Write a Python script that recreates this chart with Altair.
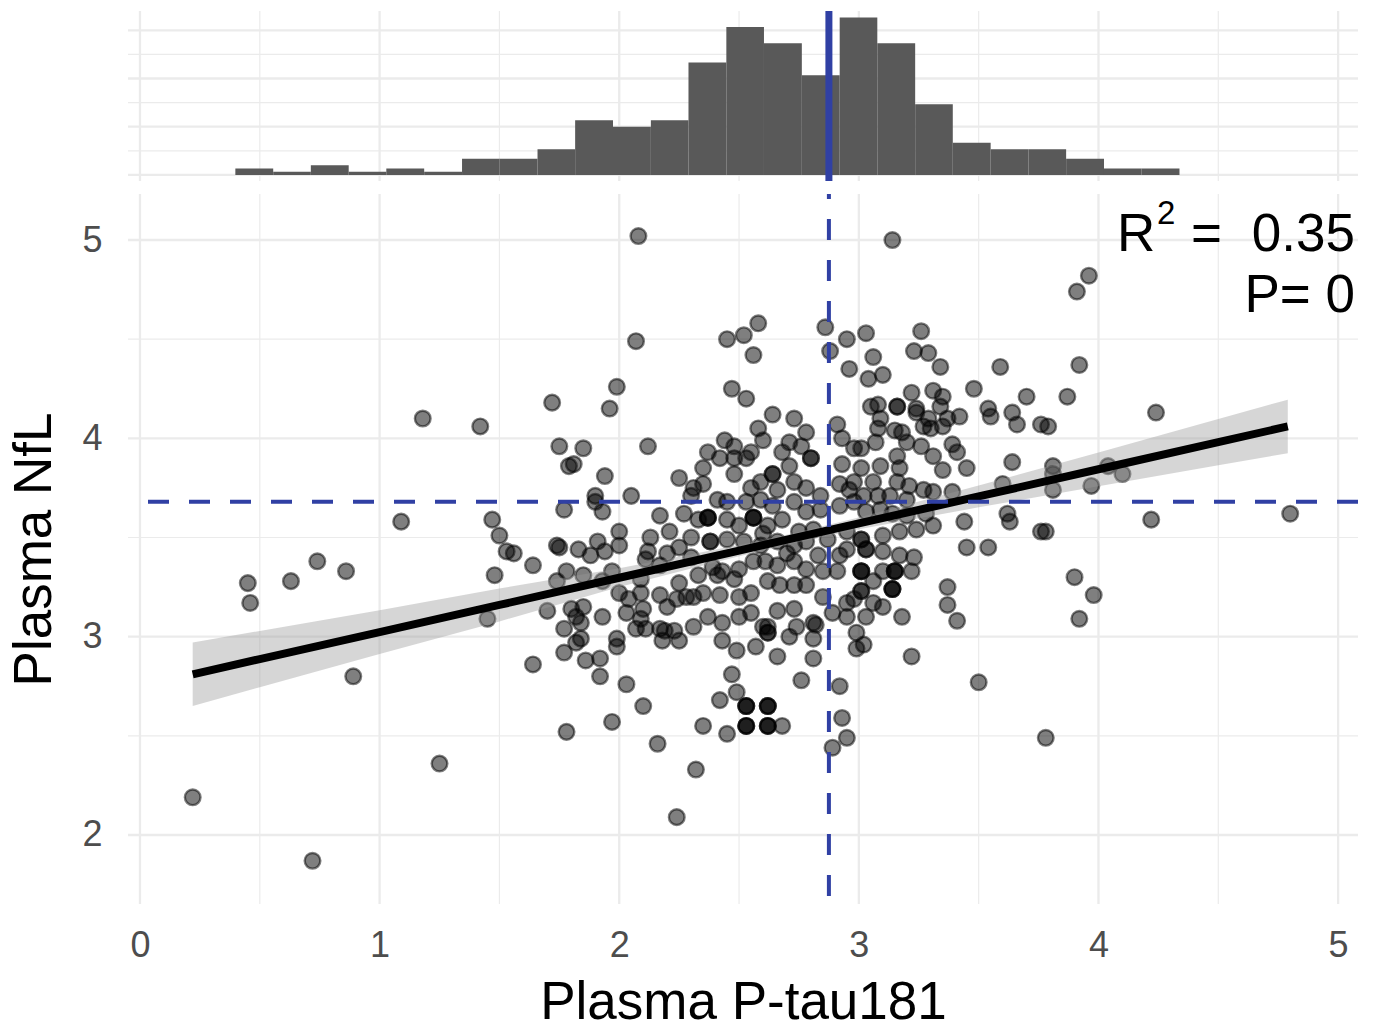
import altair as alt
import pandas as pd

# ---------------- scatter data (Plasma P-tau181 vs Plasma NfL) ----------------
ptau_a = [0.22, 0.45, 0.46, 0.63, 0.74, 0.86, 0.89, 0.72, 1.09, 1.25, 1.18, 1.42, 1.45, 1.47, 1.50, 1.53, 1.48, 1.56]
nfl_a = [2.19, 3.27, 3.17, 3.28, 3.38, 3.33, 2.80, 1.87, 3.58, 2.36, 4.10, 4.06, 3.09, 3.59, 3.51, 3.43, 3.31, 3.42]

ptau_b = [1.64, 1.74, 1.74, 1.70, 1.80, 1.64, 1.77, 1.78, 1.72, 1.75,
          1.79, 1.85, 1.81, 1.77, 1.94, 1.90, 1.93, 1.90, 1.75, 1.83,
          1.91, 1.94, 1.88, 1.78, 1.85, 1.93, 1.97, 1.93, 1.85, 1.82,
          1.77, 1.84, 1.99, 1.97, 1.99, 1.92, 1.92, 1.86, 1.82, 1.84,
          1.99, 1.96]
nfl_b = [3.36, 3.46, 3.28, 3.13, 3.14, 2.86, 2.92, 2.52, 4.18, 3.96,
         3.86, 3.95, 3.87, 3.64, 3.81, 3.71, 3.63, 3.68, 3.45, 3.44,
         3.48, 3.43, 3.41, 3.33, 3.31, 3.28, 3.33, 3.10, 3.15, 3.10,
         3.04, 2.99, 2.99, 2.57, 2.95, 2.80, 2.89, 2.88, 2.97, 3.07,
         4.26, 4.15]

ptau_c = [2.08, 2.07, 2.12, 2.05, 2.00, 2.17, 2.21, 2.00, 2.12, 2.11,
          2.17, 2.09, 2.00, 2.04, 2.09, 2.17, 2.25, 2.28, 2.33, 2.41,
          2.39, 2.43, 2.48, 2.35, 2.31, 2.24, 2.20, 2.10, 2.03, 2.09,
          2.17, 2.23, 2.31, 2.37, 2.43, 2.42, 2.07, 2.11, 2.18, 2.25,
          2.19, 2.43, 2.49, 2.03, 2.10, 2.16, 2.32, 2.24, 2.35, 2.45,
          2.42, 2.47, 2.49, 2.45, 2.47, 2.44, 2.48, 2.37, 2.42, 2.48,
          2.35, 2.48, 2.25, 2.31, 2.30, 2.35, 2.41, 2.45, 2.27, 2.33,
          2.45, 2.45, 2.37, 2.37, 2.37, 2.38, 2.38, 2.25, 2.30, 2.20,
          2.30, 2.13]
nfl_c = [5.02, 4.49, 3.96, 3.71, 3.53, 3.61, 3.53, 3.46, 3.43, 3.39,
         3.36, 3.29, 3.22, 3.19, 3.22, 3.21, 3.27, 3.20, 3.31, 3.31,
         3.35, 3.33, 3.29, 3.22, 3.20, 3.19, 3.15, 3.14, 3.12, 3.09,
         3.04, 3.03, 3.05, 3.10, 3.07, 3.21, 3.04, 3.04, 2.98, 2.98,
         3.03, 2.98, 2.93, 2.76, 2.65, 2.46, 2.33, 2.09, 2.55, 2.51,
         2.68, 2.81, 2.72, 4.50, 4.25, 3.99, 3.96, 3.93, 3.90, 3.90,
         3.85, 3.82, 3.80, 3.75, 3.71, 3.77, 3.69, 3.68, 3.62, 3.59,
         3.59, 3.49, 3.60, 3.60, 3.60, 3.48, 3.48, 3.45, 3.40, 3.42,
         3.50, 3.50]

ptau_d = [2.52, 2.58, 2.56, 2.53, 2.64, 2.73, 2.78, 2.60, 2.71, 2.55,
          2.53, 2.80, 2.80, 2.71, 2.64, 2.64, 2.59, 2.66, 2.73, 2.78,
          2.84, 2.53, 2.59, 2.64, 2.73, 2.78, 2.84, 2.56, 2.56, 2.56,
          2.50, 2.62, 2.68, 2.75, 2.81, 2.87, 2.52, 2.59, 2.66, 2.73,
          2.50, 2.56, 2.61, 2.66, 2.73, 2.78, 2.83, 2.85, 2.85, 2.89,
          2.78, 2.73, 2.67, 2.62, 2.55, 2.50, 2.50, 2.55, 2.62, 2.62,
          2.62, 2.66, 2.73, 2.74, 2.81, 2.81, 2.82, 2.71, 2.66, 2.60,
          2.57, 2.76, 2.81, 2.53, 2.53, 2.53, 2.62, 2.62, 2.62, 2.53,
          2.53, 2.53, 2.62, 2.62, 2.62, 2.68, 2.86, 2.88, 2.89, 2.70,
          2.60, 2.78, 2.55, 2.68, 2.76, 2.58]
nfl_d = [4.52, 4.58, 4.42, 4.20, 4.12, 4.10, 4.03, 3.99, 3.98, 3.93,
         3.90, 3.90, 3.90, 3.86, 3.82, 3.82, 3.78, 3.74, 3.78, 3.75,
         3.71, 3.68, 3.69, 3.66, 3.68, 3.63, 3.64, 3.60, 3.60, 3.60,
         3.56, 3.56, 3.59, 3.53, 3.54, 3.49, 3.48, 3.46, 3.48, 3.46,
         3.34, 3.38, 3.38, 3.36, 3.38, 3.34, 3.41, 3.33, 3.20, 3.12,
         3.26, 3.26, 3.26, 3.28, 3.22, 3.20, 3.10, 3.12, 3.05, 3.02,
         3.02, 3.13, 3.14, 3.05, 3.07, 2.99, 3.06, 3.00, 2.90, 3.05,
         2.95, 2.78, 2.89, 2.65, 2.65, 2.65, 2.65, 2.65, 2.65, 2.55,
         2.55, 2.55, 2.55, 2.55, 2.55, 2.55, 4.56, 4.44, 2.44, 3.42,
         3.52, 3.48, 3.75, 3.93, 3.96, 4.05]

ptau_e = [2.95, 2.96, 2.98, 2.93, 2.91, 2.93, 2.92, 2.98, 2.92, 2.98,
          2.95, 2.91, 2.92, 2.95, 2.95, 2.99, 2.92, 2.93, 2.95, 2.99,
          3.14, 3.03, 3.26, 3.23, 3.29, 3.34, 3.06, 3.04, 3.10, 3.48,
          3.22, 3.31, 3.35, 3.34, 3.05, 3.08, 3.16, 3.16, 3.24, 3.29,
          3.37, 3.42, 3.09, 3.08, 3.15, 3.18, 3.30, 3.24, 3.27, 3.35,
          3.07, 3.20, 3.26, 3.39, 3.41, 3.31, 3.16, 3.01, 3.09, 3.01,
          3.17, 3.35, 3.45, 2.96, 3.06, 3.16, 3.21, 3.27, 3.02, 3.08,
          3.13, 3.20, 3.31, 3.39, 3.03, 3.09, 3.14, 3.20, 3.28, 3.31,
          3.24, 3.17, 3.10, 3.01, 3.01, 3.03, 3.03, 2.95, 3.10, 3.17,
          3.23, 3.22, 3.10, 3.06, 2.98, 3.06, 3.10, 3.03, 3.18, 3.01,
          3.01, 3.01, 3.01, 3.01, 3.15, 3.15, 3.15, 3.14, 3.14, 3.14,
          3.02, 3.22, 3.37, 3.37, 3.41, 3.44, 3.45]
nfl_e = [4.50, 4.35, 3.95, 4.00, 4.07, 3.87, 3.77, 3.78, 3.66, 3.68,
         3.53, 3.33, 3.41, 3.17, 3.10, 3.02, 2.75, 2.59, 2.49, 2.94,
         5.00, 4.53, 4.54, 4.44, 4.43, 4.36, 4.41, 4.30, 4.32, 4.25,
         4.23, 4.24, 4.21, 4.16, 4.16, 4.17, 4.16, 4.16, 4.13, 4.10,
         4.10, 4.11, 4.10, 4.05, 4.04, 4.03, 4.05, 4.15, 4.06, 4.06,
         3.98, 3.98, 3.96, 3.97, 3.93, 3.91, 3.91, 3.95, 3.86, 3.85,
         3.85, 3.84, 3.85, 3.74, 3.78, 3.78, 3.76, 3.74, 3.71, 3.71,
         3.71, 3.69, 3.73, 3.73, 3.63, 3.64, 3.62, 3.61, 3.62, 3.56,
         3.54, 3.53, 3.51, 3.49, 3.49, 3.44, 3.44, 3.44, 3.43, 3.41,
         3.40, 3.33, 3.33, 3.28, 3.19, 3.17, 3.15, 3.10, 3.10, 3.33,
         3.33, 3.33, 3.23, 3.23, 3.33, 3.33, 3.33, 3.24, 3.24, 3.24,
         2.96, 2.90, 3.25, 3.16, 3.08, 3.58, 3.45]

ptau_f = [3.96, 3.91, 3.59, 3.92, 3.70, 3.87, 3.54, 3.55, 3.64, 3.66,
          3.76, 3.79, 3.64, 3.81, 3.60, 3.81, 3.81, 3.97, 3.62, 3.63,
          3.76, 3.78, 3.54, 3.90, 3.98, 3.92, 3.50, 3.78, 4.24, 4.04,
          4.10, 4.22, 4.80]
nfl_f = [4.82, 4.74, 4.36, 4.37, 4.21, 4.21, 4.15, 4.11, 4.13, 4.07,
         4.07, 4.06, 3.88, 3.86, 3.77, 3.82, 3.74, 3.76, 3.62, 3.58,
         3.53, 3.53, 3.45, 3.30, 3.21, 3.09, 2.77, 2.49, 4.13, 3.86,
         3.82, 3.59, 3.62]

# ---------------- marginal histogram (counts per bin) ----------------
hist_edges = [0.398, 0.556, 0.713, 0.871, 1.028, 1.186, 1.344, 1.501, 1.659, 1.816,
              1.974, 2.132, 2.289, 2.447, 2.604, 2.762, 2.920, 3.077, 3.235, 3.392,
              3.550, 3.708, 3.865, 4.023, 4.180, 4.338]
hist_counts = [2, 1, 3, 1, 2, 1, 5, 5, 8, 17, 15, 17, 35, 46, 41, 31, 49, 41, 22, 10, 8, 8, 5, 2, 2]

# ---------------- linear fit with 95% CI ----------------
fit_x = [0.22, 0.5, 1.0, 1.5, 2.0, 2.5, 2.7, 3.0, 3.5, 4.0, 4.5, 4.79]
fit_y = [2.81, 2.887, 3.023, 3.16, 3.297, 3.434, 3.489, 3.571, 3.707, 3.844, 3.981, 4.06]
fit_lo = [2.65, 2.745, 2.913, 3.077, 3.25, 3.406, 3.464, 3.541, 3.652, 3.759, 3.864, 3.925]
fit_hi = [2.97, 3.029, 3.133, 3.243, 3.345, 3.462, 3.514, 3.601, 3.762, 3.929, 4.098, 4.195]

# reference (median) lines
ref_ptau = [2.875]
ref_nfl = [3.68]

# grid positions
x_major = [0, 1, 2, 3, 4, 5]
x_minor = [0.5, 1.5, 2.5, 3.5, 4.5]
y_major = [2, 3, 4, 5]
y_minor = [2.5, 3.5, 4.5]
h_major = [0, 15, 30, 45]
h_minor = [7.5, 22.5, 37.5]

FONT = "Liberation Sans"
BLUE = "#3040A4"
GRID = "#EBEBEB"
W = 1230

points = pd.DataFrame({
    "ptau": ptau_a + ptau_b + ptau_c + ptau_d + ptau_e + ptau_f,
    "nfl": nfl_a + nfl_b + nfl_c + nfl_d + nfl_e + nfl_f,
})
fit = pd.DataFrame({"x": fit_x, "y": fit_y, "lo": fit_lo, "hi": fit_hi})
hist = pd.DataFrame({"lo": hist_edges[:-1], "hi": hist_edges[1:], "n": hist_counts})

xs = alt.Scale(domain=[-0.05, 5.083], nice=False, zero=False)
ys = alt.Scale(domain=[1.652, 5.232], nice=False, zero=False)
hs = alt.Scale(domain=[-1.9, 51], nice=False, zero=False)

x_axis = alt.Axis(values=x_major, format="d", grid=False, ticks=False, tickSize=0, domain=False,
                  labelFontSize=36, labelColor="#4D4D4D", labelFont=FONT, labelPadding=24,
                  titleFontSize=53, titleFontWeight="normal", titleColor="black", titleFont=FONT,
                  titlePadding=13)
y_axis = alt.Axis(values=y_major, format="d", grid=False, ticks=False, tickSize=0, domain=False,
                  labelFontSize=36, labelColor="#4D4D4D", labelFont=FONT, labelPadding=26,
                  titleFontSize=53, titleFontWeight="normal", titleColor="black", titleFont=FONT,
                  titlePadding=20)


def X(field):
    return alt.X(field, type="quantitative", scale=xs, axis=x_axis, title="Plasma P-tau181")


def Y(field):
    return alt.Y(field, type="quantitative", scale=ys, axis=y_axis, title="Plasma NfL")


def XN(field):
    return alt.X(field, type="quantitative", scale=xs, axis=None)


# ---------------- bottom panel ----------------
vmin = alt.Chart(pd.DataFrame({"v": x_minor})).mark_rule(color=GRID, strokeWidth=1.2).encode(x=X("v"))
vmaj = alt.Chart(pd.DataFrame({"v": x_major})).mark_rule(color=GRID, strokeWidth=2.3).encode(x=X("v"))
hmin = alt.Chart(pd.DataFrame({"v": y_minor})).mark_rule(color=GRID, strokeWidth=1.2).encode(y=Y("v"))
hmaj = alt.Chart(pd.DataFrame({"v": y_major})).mark_rule(color=GRID, strokeWidth=2.3).encode(y=Y("v"))

pts = alt.Chart(points).mark_circle(
    size=245, fill="black", fillOpacity=0.5, stroke="black", strokeOpacity=0.5, strokeWidth=2.4
).encode(x=X("ptau"), y=Y("nfl"))

band = alt.Chart(fit).mark_area(color="#999999", opacity=0.4).encode(
    x=X("x"), y=Y("lo"), y2="hi")
line = alt.Chart(fit).mark_line(color="black", strokeWidth=8).encode(x=X("x"), y=Y("y"))

hdash = alt.Chart(pd.DataFrame({"v": ref_nfl})).mark_rule(
    color=BLUE, strokeWidth=4, strokeDash=[21, 20]).encode(y=Y("v"))
vdash = alt.Chart(pd.DataFrame({"v": ref_ptau})).mark_rule(
    color=BLUE, strokeWidth=4, strokeDash=[21, 20], strokeDashOffset=16).encode(x=X("v"))

txt_base = alt.Chart(pd.DataFrame({"k": [0]}))
t_r = txt_base.mark_text(text="R", font=FONT, fontSize=53, align="left", baseline="alphabetic",
                         color="black").encode(x=alt.value(989), y=alt.value(57))
t_sup = txt_base.mark_text(text="2", font=FONT, fontSize=33, align="left", baseline="alphabetic",
                           color="black").encode(x=alt.value(1029), y=alt.value(30))
t_eq = txt_base.mark_text(text="=", font=FONT, fontSize=53, align="left", baseline="alphabetic",
                          color="black").encode(x=alt.value(1063), y=alt.value(57))
t_val = txt_base.mark_text(text="0.35", font=FONT, fontSize=53, align="right", baseline="alphabetic",
                           color="black").encode(x=alt.value(1227), y=alt.value(57))
t_p = txt_base.mark_text(text="P= 0", font=FONT, fontSize=53, align="right", baseline="alphabetic",
                         color="black").encode(x=alt.value(1227), y=alt.value(118))

bottom = alt.layer(vmin, vmaj, hmin, hmaj, pts, band, line, hdash, vdash,
                   t_r, t_sup, t_eq, t_val, t_p).properties(width=W, height=710)

# ---------------- top panel (marginal histogram) ----------------
tvmin = alt.Chart(pd.DataFrame({"v": x_minor})).mark_rule(color=GRID, strokeWidth=1.2).encode(x=XN("v"))
tvmaj = alt.Chart(pd.DataFrame({"v": x_major})).mark_rule(color=GRID, strokeWidth=2.3).encode(x=XN("v"))
thmin = alt.Chart(pd.DataFrame({"v": h_minor})).mark_rule(color=GRID, strokeWidth=1.2).encode(
    y=alt.Y("v:Q", scale=hs, axis=None))
thmaj = alt.Chart(pd.DataFrame({"v": h_major})).mark_rule(color=GRID, strokeWidth=2.3).encode(
    y=alt.Y("v:Q", scale=hs, axis=None))
bars = alt.Chart(hist).mark_rect(color="#595959").encode(
    x=XN("lo"), x2="hi", y=alt.Y("n:Q", scale=hs, axis=None), y2=alt.datum(0))
tline = alt.Chart(pd.DataFrame({"v": ref_ptau})).mark_rule(color=BLUE, strokeWidth=7).encode(x=XN("v"))

top = alt.layer(tvmin, tvmaj, thmin, thmaj, bars, tline).properties(width=W, height=170)

chart = alt.vconcat(top, bottom, spacing=13, bounds="flush").properties(
    padding={"left": 8, "top": 7, "right": 10, "bottom": 5}
).configure(font=FONT).configure_view(strokeWidth=0, stroke="transparent")

chart.save("out.html", embed_options={"renderer": "svg", "actions": False})
